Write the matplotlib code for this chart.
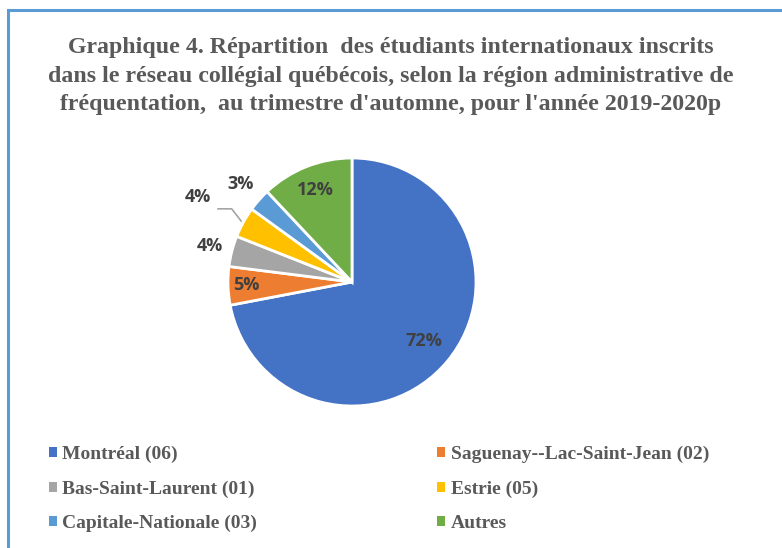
import numpy as np
import matplotlib
matplotlib.use("Agg")
import matplotlib.pyplot as plt
from matplotlib.patches import Rectangle, Patch

regions = ["Montréal (06)", "Saguenay--Lac-Saint-Jean (02)", "Bas-Saint-Laurent (01)",
           "Estrie (05)", "Capitale-Nationale (03)", "Autres"]
shares = [72, 5, 4, 4, 3, 12]
colors = ["#4472C4", "#ED7D31", "#A5A5A5", "#FFC000", "#5B9BD5", "#70AD47"]
label_dist = [0.75, 0.85, 1.18, 1.42, 1.2, 0.8]

title = ("Graphique 4. Répartition  des étudiants internationaux inscrits\n"
         "dans le réseau collégial québécois, selon la région administrative de\n"
         "fréquentation,  au trimestre d'automne, pour l'année 2019-2020p")

W, H = 782, 548
fig = plt.figure(figsize=(W / 100, H / 100), dpi=100)
fig.patch.set_facecolor("white")

# blue frame (only top/left visible in the crop)
fig.patches.append(Rectangle((8 / W, -0.1), 1.2, (H - 10) / H + 0.1, transform=fig.transFigure,
                             fill=False, edgecolor="#5B9BD5", linewidth=2.2))

fig.text(0.5, 1 - 37 / H, title, ha="center", va="top", family="Liberation Serif",
         fontweight="bold", fontsize=17.2, color="#595959", linespacing=1.48)

R = 124
L = 1.6
cx, cy = 352, H - 282
side = 2 * L * R
ax = fig.add_axes([(cx - side / 2) / W, (cy - side / 2) / H, side / W, side / H])
wedges, _ = ax.pie(shares, colors=colors, startangle=90, counterclock=False,
                   wedgeprops=dict(edgecolor="white", linewidth=2))
ax.set_xlim(-L, L)
ax.set_ylim(-L, L)
ax.set_aspect("equal")
ax.axis("off")

for w, v, d in zip(wedges, shares, label_dist):
    mid = np.deg2rad((w.theta1 + w.theta2) / 2)
    ax.text(d * np.cos(mid), d * np.sin(mid), f"{v}%", ha="center", va="center",
            family="Open Sans", fontweight="bold", fontsize=13, color="#404040")

# leader line for Estrie
w = wedges[3]
mid = np.deg2rad((w.theta1 + w.theta2) / 2)
ex, ey = 1.02 * np.cos(mid), 1.02 * np.sin(mid)
ax.plot([-1.08, -0.97, ex], [0.59, 0.59, ey], color="#A5A5A5", linewidth=1.2)

order = [0, 2, 4, 1, 3, 5]
handles = [Patch(facecolor=colors[i], edgecolor="none") for i in order]
labels = [regions[i] for i in order]
fig.legend(handles, labels, ncol=2, loc="upper left", bbox_to_anchor=(31 / W, 1 - 428 / H),
           frameon=False, handlelength=0.42, handleheight=0.42, handletextpad=0.3,
           columnspacing=9.25, labelspacing=0.9,
           prop=dict(family="Liberation Serif", weight="bold", size=14), labelcolor="#595959")

fig.savefig("out.png", dpi=100)
